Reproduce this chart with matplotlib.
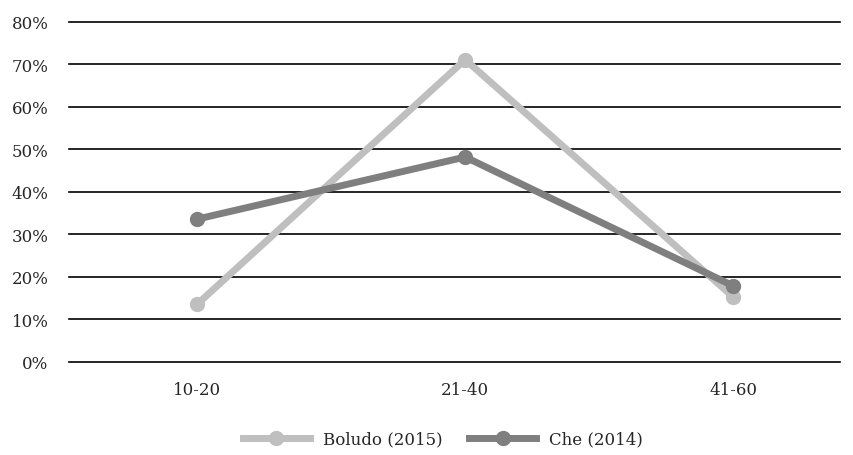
import matplotlib
matplotlib.use('Agg')
import matplotlib.pyplot as plt
from matplotlib.ticker import PercentFormatter

age_groups = ['10-20', '21-40', '41-60']
boludo_2015 = [13.6, 71.1, 15.3]
che_2014 = [33.6, 48.2, 17.9]

plt.rcParams['font.family'] = ['DejaVu Serif']

fig = plt.figure(figsize=(8.54, 4.56), dpi=100)
ax = fig.add_axes([0.081, 0.204, 0.903, 0.746])

x = range(len(age_groups))
ax.plot(x, boludo_2015, color='#BFBFBF', lw=5, marker='o', ms=10,
        label='Boludo (2015)', zorder=3)
ax.plot(x, che_2014, color='#7F7F7F', lw=5, marker='o', ms=10,
        label='Che (2014)', zorder=4)

yticks = list(range(0, 81, 10))
ax.set_ylim(0, 80)
ax.set_yticks(yticks)
ax.yaxis.set_major_formatter(PercentFormatter(decimals=0))
ax.set_xlim(-0.478, 2.40)
ax.set_xticks(list(x))
ax.set_xticklabels(age_groups)

# horizontal rules, unclipped so the 0% and 80% lines are drawn in full
for y in yticks:
    ax.axhline(y, color='black', lw=1.2, clip_on=False, zorder=1)

for s in ax.spines.values():
    s.set_visible(False)
ax.tick_params(length=0, labelsize=12, colors='#262626')
ax.tick_params(axis='y', pad=15)
ax.tick_params(axis='x', pad=14)

fig.legend(loc='center', bbox_to_anchor=(0.519, 0.035), ncol=2,
           frameon=False, fontsize=12, handlelength=4.0, columnspacing=1.6,
           handletextpad=0.8, labelcolor='#262626')

fig.savefig('out.png', dpi=100)
